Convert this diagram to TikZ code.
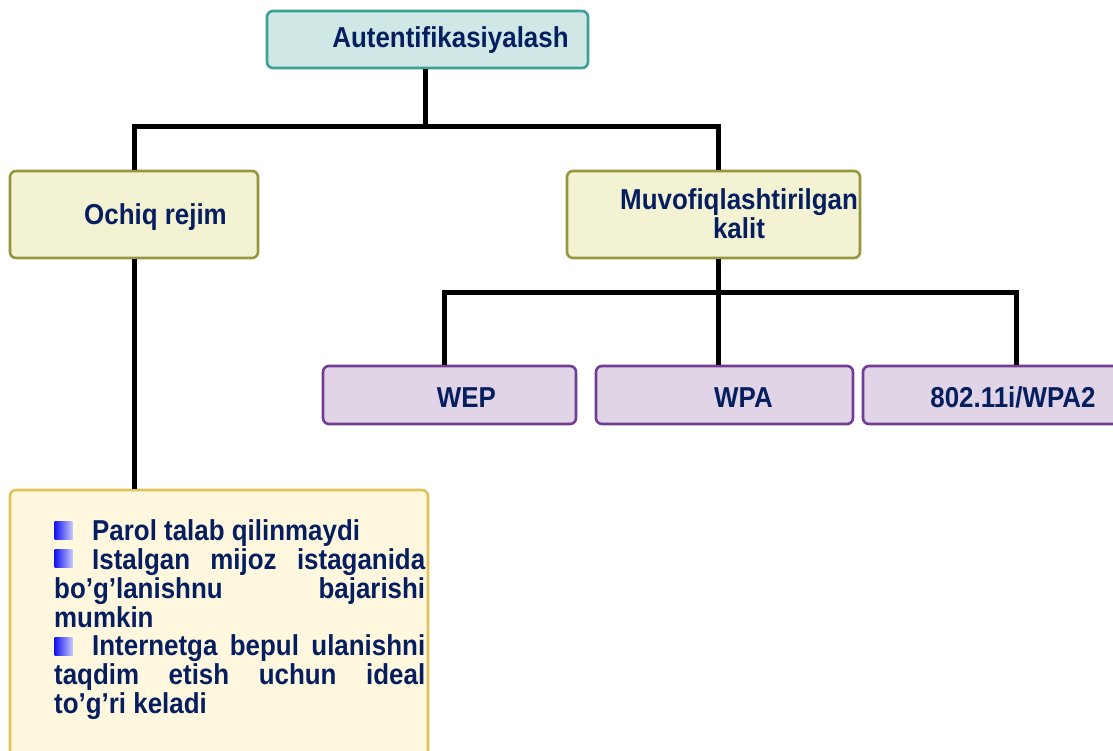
\documentclass[tikz,border=0pt]{standalone}
\usepackage{fontspec}
\setmainfont{Liberation Sans}[FakeStretch=0.9]
\usetikzlibrary{calc}
\definecolor{txt}{RGB}{5,30,95}
\definecolor{tealfill}{RGB}{207,232,230}
\definecolor{tealline}{RGB}{60,160,150}
\definecolor{olivefill}{RGB}{243,243,212}
\definecolor{oliveline}{RGB}{150,150,60}
\definecolor{lavfill}{RGB}{224,212,230}
\definecolor{lavline}{RGB}{112,60,150}
\definecolor{creamfill}{RGB}{255,248,222}
\definecolor{creamline}{RGB}{222,195,90}
\definecolor{bulA}{RGB}{20,20,240}
\definecolor{bulB}{RGB}{200,200,255}
\tikzset{
  box/.style={draw, rounded corners=6pt, line width=2.6pt, inner sep=0pt},
  tealbox/.style={box, draw=tealline, fill=tealfill},
  olivebox/.style={box, draw=oliveline, fill=olivefill},
  lavbox/.style={box, draw=lavline, fill=lavfill},
  creambox/.style={box, draw=creamline, fill=creamfill},
  lbl/.style={text=txt, font=\fontsize{28.8}{29}\selectfont\bfseries, inner sep=0pt},
  conn/.style={line width=5pt, black},
  bulletsq/.style={minimum size=18pt, inner sep=0pt, left color=bulA, right color=bulB}
}
\begin{document}
\begin{tikzpicture}[x=1pt,y=-1pt]
\useasboundingbox (0,0) rectangle (1113,751);
\clip (0,0) rectangle (1113,751);
% junction coordinates
\coordinate (j1) at (425,127);
\coordinate (j2) at (718,292);
\coordinate (xwep) at (444,0);
\coordinate (xwpa) at (718,0);
\coordinate (x802) at (1016,0);
% boxes
\node[tealbox, minimum width=321pt, minimum height=57pt] (top) at (427.5,39.5) {};
\node[olivebox, minimum width=248pt, minimum height=87pt] (ochiq) at (134,214.5) {};
\node[olivebox, minimum width=293pt, minimum height=87pt] (muv) at (713.5,214.5) {};
\node[lavbox, minimum width=253pt, minimum height=58pt] (wep) at (449.5,395) {};
\node[lavbox, minimum width=257pt, minimum height=58pt] (wpa) at (724.5,395) {};
\node[lavbox, minimum width=257pt, minimum height=58pt] (wpb) at (991.5,395) {};
\node[creambox, minimum width=418pt, minimum height=290pt] (note) at (219,635) {};
% connectors
\draw[conn] (top.south -| j1) -- (j1);
\draw[conn] (ochiq.north) |- (j1) -| (muv.north -| j2);
\draw[conn] (muv.south -| j2) -- (j2);
\draw[conn] (wep.north -| xwep) |- (j2) -| (wpb.north -| x802);
\draw[conn] (j2) -- (wpa.north -| xwpa);
\draw[conn] (ochiq.south) -- (note.north -| ochiq.south);
% labels
\node[lbl, anchor=base] (toplbl) at (450.5,48) {Autentifikasiyalash};
\node[lbl, anchor=base] (ochiqlbl) at (155.5,225) {Ochiq rejim};
\node[lbl, anchor=base, align=center] (muvlbl) at (739,239) {Muvofiqlashtirilgan\\kalit};
\node[lbl, anchor=base] (weplbl) at (466.5,407) {WEP};
\node[lbl, anchor=base] (wpalbl) at (743.5,407) {WPA};
\node[lbl, anchor=base] (wpblbl) at (1013,407) {802.11i/WPA2};
% bullets
\node[bulletsq] (b1) at (63.5,530) {};
\node[bulletsq] (b2) at (63.5,558.5) {};
\node[bulletsq] (b3) at (63.5,646.5) {};
% bullet text lines
\node[lbl, anchor=base west] (l1) at (92,540) {Parol talab qilinmaydi};
\node[lbl, anchor=base west] (l2) at (92,569) {\makebox[333pt][s]{Istalgan mijoz istaganida}};
\node[lbl, anchor=base west] (l3) at (54,598) {\makebox[371pt][s]{bo’g’lanishnu bajarishi}};
\node[lbl, anchor=base west] (l4) at (54,627) {mumkin};
\node[lbl, anchor=base west] (l5) at (92,655) {\makebox[333pt][s]{Internetga bepul ulanishni}};
\node[lbl, anchor=base west] (l6) at (54,684) {\makebox[371pt][s]{taqdim etish uchun ideal}};
\node[lbl, anchor=base west] (l7) at (54,713) {to’g’ri keladi};
\end{tikzpicture}
\end{document}
